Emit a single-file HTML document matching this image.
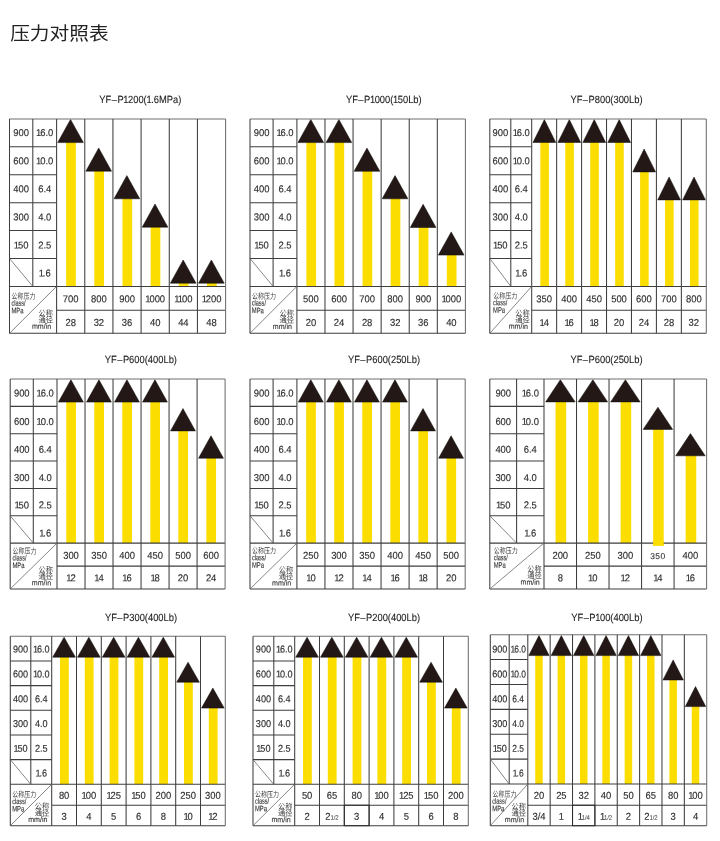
<!DOCTYPE html>
<html lang="zh-CN">
<head>
<meta charset="utf-8">
<title>压力对照表</title>
<style>
html,body{margin:0;padding:0;background:#fff;}
body{width:720px;height:841px;overflow:hidden;position:relative;font-family:"Liberation Sans","Noto Sans CJK SC",sans-serif;}
h1{position:absolute;left:10.2px;top:19.5px;margin:0;font-family:"Liberation Sans","Noto Sans CJK SC",sans-serif;font-weight:400;font-size:19.7px;line-height:28px;color:#222;letter-spacing:0px;white-space:nowrap;transform:scale(1,0.90);transform-origin:0 50%;}
svg{position:absolute;left:0;top:0;}
.l{stroke:#3e3e3e;stroke-width:1.05;fill:none;}
.lt{stroke:#6e6e6e;}
.d{stroke-width:0.8;stroke:#686868;}
.dk{fill:none;stroke:#2b2b2b;stroke-width:1;}
.t{fill:#231815;stroke:#0d0a09;stroke-width:0.5;}
.b{fill:#fcdd00;}
text{text-rendering:geometricPrecision;font-family:"Liberation Sans","Noto Sans CJK SC",sans-serif;fill:#2e2e2e;}
.n{font-size:9.9px;text-anchor:middle;stroke:#2e2e2e;stroke-width:0.15px;}
.s35{font-size:8.4px;letter-spacing:0.45px;stroke-width:0.1px;}
.fr{font-size:6.4px;letter-spacing:-0.15px;stroke-width:0;}
.h{font-size:10.4px;text-anchor:middle;fill:#222;stroke:#222;stroke-width:0.1px;}
.c1{font-size:7.8px;font-weight:400;fill:#3c3c3c;}
.c2{font-size:7.8px;font-weight:400;text-anchor:end;fill:#3c3c3c;}
.e1{font-size:7.9px;fill:#333;stroke:#333;stroke-width:0.12px;}
.e2{font-size:7.7px;text-anchor:end;fill:#333;stroke:#333;stroke-width:0.12px;}
</style>
</head>
<body>
<h1>压力对照表</h1>
<svg width="720" height="841" viewBox="0 0 720 841">
<g id="chart1">
<rect class="b" x="66.13" y="142.1" width="9.7" height="144.3"/>
<path class="t" d="M70.53 119.4L83.38 142.6L57.68 142.6Z"/>
<rect class="b" x="94.3" y="170.7" width="9.7" height="115.7"/>
<path class="t" d="M98.7 148L111.55 171.2L85.85 171.2Z"/>
<rect class="b" x="122.47" y="198.3" width="9.7" height="88.1"/>
<path class="t" d="M126.87 175.6L139.72 198.8L114.02 198.8Z"/>
<rect class="b" x="150.63" y="226.7" width="9.7" height="59.7"/>
<path class="t" d="M155.03 204L167.88 227.2L142.18 227.2Z"/>
<rect class="b" x="178.8" y="282.7" width="9.7" height="3.7"/>
<path class="t" d="M183.2 260L196.05 283.2L170.35 283.2Z"/>
<rect class="b" x="206.97" y="282.7" width="9.7" height="3.7"/>
<path class="t" d="M211.37 260L224.22 283.2L198.52 283.2Z"/>
<line class="l lt" x1="9.5" y1="118.9" x2="225.6" y2="118.9"/>
<line class="l" x1="9.5" y1="146.82" x2="56.6" y2="146.82"/>
<line class="l" x1="9.5" y1="174.73" x2="56.6" y2="174.73"/>
<line class="l" x1="9.5" y1="202.65" x2="56.6" y2="202.65"/>
<line class="l" x1="9.5" y1="230.57" x2="56.6" y2="230.57"/>
<line class="l" x1="9.5" y1="258.48" x2="56.6" y2="258.48"/>
<line class="l" x1="9.5" y1="286.4" x2="225.6" y2="286.4"/>
<line class="l" x1="56.6" y1="310.2" x2="225.6" y2="310.2"/>
<line class="l" x1="9.5" y1="333.3" x2="225.6" y2="333.3"/>
<line class="l" x1="9.5" y1="118.9" x2="9.5" y2="333.3"/>
<line class="l" x1="32.8" y1="118.9" x2="32.8" y2="286.4"/>
<line class="l" x1="56.6" y1="118.9" x2="56.6" y2="333.3"/>
<line class="l" x1="84.77" y1="118.9" x2="84.77" y2="333.3"/>
<line class="l" x1="112.93" y1="118.9" x2="112.93" y2="333.3"/>
<line class="l" x1="141.1" y1="118.9" x2="141.1" y2="333.3"/>
<line class="l" x1="169.27" y1="118.9" x2="169.27" y2="333.3"/>
<line class="l" x1="197.43" y1="118.9" x2="197.43" y2="333.3"/>
<line class="l lt" x1="225.6" y1="118.9" x2="225.6" y2="333.3"/>
<line class="l d" x1="9.5" y1="258.48" x2="32.8" y2="286.4"/>
<line class="l d" x1="9.5" y1="333.3" x2="56.6" y2="286.4"/>
<text class="h" transform="translate(140.3 102.9) scale(0.9 1)">YF<tspan dx="0.5">–</tspan><tspan dx="0.5">P<tspan dx="-0.4">1</tspan><tspan dx="-0.5">2</tspan>00(<tspan dx="-0.4">1</tspan><tspan dx="-0.5">.</tspan>6MPa)</tspan></text>
<text class="n" transform="translate(21.15 136.1) rotate(0.3) scale(0.95 1)">900</text>
<text class="n" transform="translate(44.7 136.1) rotate(0.3) scale(0.95 1)">1<tspan dx="-1.15">6</tspan>.0</text>
<text class="n" transform="translate(21.15 164.2) rotate(0.3) scale(0.95 1)">600</text>
<text class="n" transform="translate(44.7 164.2) rotate(0.3) scale(0.95 1)">1<tspan dx="-1.15">0</tspan>.0</text>
<text class="n" transform="translate(21.15 192.3) rotate(0.3) scale(0.95 1)">400</text>
<text class="n" transform="translate(44.7 192.3) rotate(0.3) scale(0.95 1)">6.4</text>
<text class="n" transform="translate(21.15 220.4) rotate(0.3) scale(0.95 1)">300</text>
<text class="n" transform="translate(44.7 220.4) rotate(0.3) scale(0.95 1)">4.0</text>
<text class="n" transform="translate(21.15 248.5) rotate(0.3) scale(0.95 1)">1<tspan dx="-1.15">5</tspan>0</text>
<text class="n" transform="translate(44.7 248.5) rotate(0.3) scale(0.95 1)">2.5</text>
<text class="n" transform="translate(44.7 276.6) rotate(0.3) scale(0.95 1)">1<tspan dx="-1.15">.</tspan>6</text>
<text class="n" transform="translate(70.68 302.2) rotate(0.3) scale(0.95 1)">700</text>
<text class="n" transform="translate(70.68 325.9) rotate(0.3) scale(0.95 1)">28</text>
<text class="n" transform="translate(98.85 302.2) rotate(0.3) scale(0.95 1)">800</text>
<text class="n" transform="translate(98.85 325.9) rotate(0.3) scale(0.95 1)">32</text>
<text class="n" transform="translate(127.02 302.2) rotate(0.3) scale(0.95 1)">900</text>
<text class="n" transform="translate(127.02 325.9) rotate(0.3) scale(0.95 1)">36</text>
<text class="n" transform="translate(155.18 302.2) rotate(0.3) scale(0.95 1)">1<tspan dx="-1.15">0</tspan>00</text>
<text class="n" transform="translate(155.18 325.9) rotate(0.3) scale(0.95 1)">40</text>
<text class="n" transform="translate(183.35 302.2) rotate(0.3) scale(0.95 1)">1<tspan dx="-1.13">1</tspan><tspan dx="-1.15">0</tspan>0</text>
<text class="n" transform="translate(183.35 325.9) rotate(0.3) scale(0.95 1)">44</text>
<text class="n" transform="translate(211.52 302.2) rotate(0.3) scale(0.95 1)">1<tspan dx="-1.15">2</tspan>00</text>
<text class="n" transform="translate(211.52 325.9) rotate(0.3) scale(0.95 1)">48</text>
<text class="c1" transform="translate(11.6 299) rotate(0.3) scale(0.77 1)">公称压力</text>
<text class="e1" transform="translate(11.5 305.7) rotate(0.3) scale(0.7 1)">class/</text>
<text class="e1" transform="translate(11.5 313.2) rotate(0.3) scale(0.74 1)">MPa</text>
<text class="c2" transform="translate(53.1 316) rotate(0.3) scale(0.93 1)">公称</text>
<text class="c2" transform="translate(53.1 322.6) rotate(0.3) scale(0.93 1)">通径</text>
<text class="e2" transform="translate(51.2 328.9) rotate(0.3) scale(0.92 1)">mm/in</text>
</g>
<g id="chart2">
<rect class="b" x="306.39" y="142.1" width="9.7" height="144.3"/>
<path class="t" d="M310.79 119.4L323.64 142.6L297.94 142.6Z"/>
<rect class="b" x="334.47" y="142.1" width="9.7" height="144.3"/>
<path class="t" d="M338.88 119.4L351.73 142.6L326.02 142.6Z"/>
<rect class="b" x="362.56" y="170.8" width="9.7" height="115.6"/>
<path class="t" d="M366.96 148.1L379.81 171.3L354.11 171.3Z"/>
<rect class="b" x="390.64" y="198.3" width="9.7" height="88.1"/>
<path class="t" d="M395.04 175.6L407.89 198.8L382.19 198.8Z"/>
<rect class="b" x="418.72" y="227" width="9.7" height="59.4"/>
<path class="t" d="M423.12 204.3L435.98 227.5L410.27 227.5Z"/>
<rect class="b" x="446.81" y="254.6" width="9.7" height="31.8"/>
<path class="t" d="M451.21 231.9L464.06 255.1L438.36 255.1Z"/>
<line class="l lt" x1="250" y1="118.9" x2="465.4" y2="118.9"/>
<line class="l" x1="250" y1="146.82" x2="296.9" y2="146.82"/>
<line class="l" x1="250" y1="174.73" x2="296.9" y2="174.73"/>
<line class="l" x1="250" y1="202.65" x2="296.9" y2="202.65"/>
<line class="l" x1="250" y1="230.57" x2="296.9" y2="230.57"/>
<line class="l" x1="250" y1="258.48" x2="296.9" y2="258.48"/>
<line class="l" x1="250" y1="286.4" x2="465.4" y2="286.4"/>
<line class="l" x1="296.9" y1="310.2" x2="465.4" y2="310.2"/>
<line class="l" x1="250" y1="333.3" x2="465.4" y2="333.3"/>
<line class="l" x1="250" y1="118.9" x2="250" y2="333.3"/>
<line class="l" x1="273.1" y1="118.9" x2="273.1" y2="286.4"/>
<line class="l" x1="296.9" y1="118.9" x2="296.9" y2="333.3"/>
<line class="l" x1="324.98" y1="118.9" x2="324.98" y2="333.3"/>
<line class="l" x1="353.07" y1="118.9" x2="353.07" y2="333.3"/>
<line class="l" x1="381.15" y1="118.9" x2="381.15" y2="333.3"/>
<line class="l" x1="409.23" y1="118.9" x2="409.23" y2="333.3"/>
<line class="l" x1="437.32" y1="118.9" x2="437.32" y2="333.3"/>
<line class="l lt" x1="465.4" y1="118.9" x2="465.4" y2="333.3"/>
<line class="l d" x1="250" y1="258.48" x2="273.1" y2="286.4"/>
<line class="l d" x1="250" y1="333.3" x2="296.9" y2="286.4"/>
<text class="h" transform="translate(383.8 102.9) scale(0.9 1)">YF<tspan dx="0.5">–</tspan><tspan dx="0.5">P<tspan dx="-0.4">1</tspan><tspan dx="-0.5">0</tspan>00(<tspan dx="-0.4">1</tspan><tspan dx="-0.5">5</tspan>0Lb)</tspan></text>
<text class="n" transform="translate(261.55 136.1) rotate(0.3) scale(0.95 1)">900</text>
<text class="n" transform="translate(285 136.1) rotate(0.3) scale(0.95 1)">1<tspan dx="-1.15">6</tspan>.0</text>
<text class="n" transform="translate(261.55 164.2) rotate(0.3) scale(0.95 1)">600</text>
<text class="n" transform="translate(285 164.2) rotate(0.3) scale(0.95 1)">1<tspan dx="-1.15">0</tspan>.0</text>
<text class="n" transform="translate(261.55 192.3) rotate(0.3) scale(0.95 1)">400</text>
<text class="n" transform="translate(285 192.3) rotate(0.3) scale(0.95 1)">6.4</text>
<text class="n" transform="translate(261.55 220.4) rotate(0.3) scale(0.95 1)">300</text>
<text class="n" transform="translate(285 220.4) rotate(0.3) scale(0.95 1)">4.0</text>
<text class="n" transform="translate(261.55 248.5) rotate(0.3) scale(0.95 1)">1<tspan dx="-1.15">5</tspan>0</text>
<text class="n" transform="translate(285 248.5) rotate(0.3) scale(0.95 1)">2.5</text>
<text class="n" transform="translate(285 276.6) rotate(0.3) scale(0.95 1)">1<tspan dx="-1.15">.</tspan>6</text>
<text class="n" transform="translate(310.94 302.2) rotate(0.3) scale(0.95 1)">500</text>
<text class="n" transform="translate(310.94 325.9) rotate(0.3) scale(0.95 1)">20</text>
<text class="n" transform="translate(339.02 302.2) rotate(0.3) scale(0.95 1)">600</text>
<text class="n" transform="translate(339.02 325.9) rotate(0.3) scale(0.95 1)">24</text>
<text class="n" transform="translate(367.11 302.2) rotate(0.3) scale(0.95 1)">700</text>
<text class="n" transform="translate(367.11 325.9) rotate(0.3) scale(0.95 1)">28</text>
<text class="n" transform="translate(395.19 302.2) rotate(0.3) scale(0.95 1)">800</text>
<text class="n" transform="translate(395.19 325.9) rotate(0.3) scale(0.95 1)">32</text>
<text class="n" transform="translate(423.27 302.2) rotate(0.3) scale(0.95 1)">900</text>
<text class="n" transform="translate(423.27 325.9) rotate(0.3) scale(0.95 1)">36</text>
<text class="n" transform="translate(451.36 302.2) rotate(0.3) scale(0.95 1)">1<tspan dx="-1.15">0</tspan>00</text>
<text class="n" transform="translate(451.36 325.9) rotate(0.3) scale(0.95 1)">40</text>
<text class="c1" transform="translate(251.9 298.9) rotate(0.3) scale(0.77 1)">公称压力</text>
<text class="e1" transform="translate(251.8 305.6) rotate(0.3) scale(0.7 1)">class/</text>
<text class="e1" transform="translate(251.8 313.1) rotate(0.3) scale(0.74 1)">MPa</text>
<text class="c2" transform="translate(293.9 316.1) rotate(0.3) scale(0.93 1)">公称</text>
<text class="c2" transform="translate(293.9 322.7) rotate(0.3) scale(0.93 1)">通径</text>
<text class="e2" transform="translate(292 329) rotate(0.3) scale(0.92 1)">mm/in</text>
</g>
<g id="chart3">
<rect class="b" x="540.32" y="142" width="8.6" height="144.4"/>
<path class="t" d="M544.37 119.6L555.77 142.5L532.97 142.5Z"/>
<rect class="b" x="565.26" y="142" width="8.6" height="144.4"/>
<path class="t" d="M569.31 119.6L580.71 142.5L557.91 142.5Z"/>
<rect class="b" x="590.21" y="142" width="8.6" height="144.4"/>
<path class="t" d="M594.26 119.6L605.66 142.5L582.86 142.5Z"/>
<rect class="b" x="615.15" y="142" width="8.6" height="144.4"/>
<path class="t" d="M619.2 119.6L630.6 142.5L607.8 142.5Z"/>
<rect class="b" x="640.09" y="171.4" width="8.6" height="115"/>
<path class="t" d="M644.14 149L655.54 171.9L632.74 171.9Z"/>
<rect class="b" x="665.04" y="199.4" width="8.6" height="87"/>
<path class="t" d="M669.09 177L680.49 199.9L657.69 199.9Z"/>
<rect class="b" x="689.98" y="199.4" width="8.6" height="87"/>
<path class="t" d="M694.03 177L705.43 199.9L682.63 199.9Z"/>
<line class="l lt" x1="489.8" y1="118.9" x2="706.3" y2="118.9"/>
<line class="l" x1="489.8" y1="146.82" x2="531.7" y2="146.82"/>
<line class="l" x1="489.8" y1="174.73" x2="531.7" y2="174.73"/>
<line class="l" x1="489.8" y1="202.65" x2="531.7" y2="202.65"/>
<line class="l" x1="489.8" y1="230.57" x2="531.7" y2="230.57"/>
<line class="l" x1="489.8" y1="258.48" x2="531.7" y2="258.48"/>
<line class="l" x1="489.8" y1="286.4" x2="706.3" y2="286.4"/>
<line class="l" x1="531.7" y1="310.2" x2="706.3" y2="310.2"/>
<line class="l" x1="489.8" y1="333.3" x2="706.3" y2="333.3"/>
<line class="l" x1="489.8" y1="118.9" x2="489.8" y2="333.3"/>
<line class="l" x1="510.8" y1="118.9" x2="510.8" y2="286.4"/>
<line class="l" x1="531.7" y1="118.9" x2="531.7" y2="333.3"/>
<line class="l" x1="556.64" y1="118.9" x2="556.64" y2="333.3"/>
<line class="l" x1="581.59" y1="118.9" x2="581.59" y2="333.3"/>
<line class="l" x1="606.53" y1="118.9" x2="606.53" y2="333.3"/>
<line class="l" x1="631.47" y1="118.9" x2="631.47" y2="333.3"/>
<line class="l" x1="656.41" y1="118.9" x2="656.41" y2="333.3"/>
<line class="l" x1="681.36" y1="118.9" x2="681.36" y2="333.3"/>
<line class="l lt" x1="706.3" y1="118.9" x2="706.3" y2="333.3"/>
<line class="l d" x1="489.8" y1="258.48" x2="510.8" y2="286.4"/>
<line class="l d" x1="489.8" y1="333.3" x2="531.7" y2="286.4"/>
<text class="h" transform="translate(606.5 102.9) scale(0.9 1)">YF<tspan dx="0.5">–</tspan><tspan dx="0.5">P800(300Lb)</tspan></text>
<text class="n" transform="translate(500.3 136.1) rotate(0.3) scale(0.95 1)">900</text>
<text class="n" transform="translate(521.25 136.1) rotate(0.3) scale(0.95 1)">1<tspan dx="-1.15">6</tspan>.0</text>
<text class="n" transform="translate(500.3 164.2) rotate(0.3) scale(0.95 1)">600</text>
<text class="n" transform="translate(521.25 164.2) rotate(0.3) scale(0.95 1)">1<tspan dx="-1.15">0</tspan>.0</text>
<text class="n" transform="translate(500.3 192.3) rotate(0.3) scale(0.95 1)">400</text>
<text class="n" transform="translate(521.25 192.3) rotate(0.3) scale(0.95 1)">6.4</text>
<text class="n" transform="translate(500.3 220.4) rotate(0.3) scale(0.95 1)">300</text>
<text class="n" transform="translate(521.25 220.4) rotate(0.3) scale(0.95 1)">4.0</text>
<text class="n" transform="translate(500.3 248.5) rotate(0.3) scale(0.95 1)">1<tspan dx="-1.15">5</tspan>0</text>
<text class="n" transform="translate(521.25 248.5) rotate(0.3) scale(0.95 1)">2.5</text>
<text class="n" transform="translate(521.25 276.6) rotate(0.3) scale(0.95 1)">1<tspan dx="-1.15">.</tspan>6</text>
<text class="n" transform="translate(544.17 302.2) rotate(0.3) scale(0.95 1)">350</text>
<text class="n" transform="translate(544.17 325.9) rotate(0.3) scale(0.95 1)">1<tspan dx="-1.15">4</tspan></text>
<text class="n" transform="translate(569.11 302.2) rotate(0.3) scale(0.95 1)">400</text>
<text class="n" transform="translate(569.11 325.9) rotate(0.3) scale(0.95 1)">1<tspan dx="-1.15">6</tspan></text>
<text class="n" transform="translate(594.06 302.2) rotate(0.3) scale(0.95 1)">450</text>
<text class="n" transform="translate(594.06 325.9) rotate(0.3) scale(0.95 1)">1<tspan dx="-1.15">8</tspan></text>
<text class="n" transform="translate(619 302.2) rotate(0.3) scale(0.95 1)">500</text>
<text class="n" transform="translate(619 325.9) rotate(0.3) scale(0.95 1)">20</text>
<text class="n" transform="translate(643.94 302.2) rotate(0.3) scale(0.95 1)">600</text>
<text class="n" transform="translate(643.94 325.9) rotate(0.3) scale(0.95 1)">24</text>
<text class="n" transform="translate(668.89 302.2) rotate(0.3) scale(0.95 1)">700</text>
<text class="n" transform="translate(668.89 325.9) rotate(0.3) scale(0.95 1)">28</text>
<text class="n" transform="translate(693.83 302.2) rotate(0.3) scale(0.95 1)">800</text>
<text class="n" transform="translate(693.83 325.9) rotate(0.3) scale(0.95 1)">32</text>
<text class="c1" transform="translate(493.2 298.6) rotate(0.3) scale(0.77 1)">公称压力</text>
<text class="e1" transform="translate(493.1 305.3) rotate(0.3) scale(0.7 1)">class/</text>
<text class="e1" transform="translate(493.1 312.8) rotate(0.3) scale(0.74 1)">MPa</text>
<text class="c2" transform="translate(529.8 316) rotate(0.3) scale(0.93 1)">公称</text>
<text class="c2" transform="translate(529.8 322.6) rotate(0.3) scale(0.93 1)">通径</text>
<text class="e2" transform="translate(527.9 328.9) rotate(0.3) scale(0.92 1)">mm/in</text>
</g>
<g id="chart4">
<rect class="b" x="66.26" y="401.6" width="9.7" height="141.5"/>
<path class="t" d="M70.91 379.7L83.36 402.1L58.46 402.1Z"/>
<rect class="b" x="94.28" y="401.6" width="9.7" height="141.5"/>
<path class="t" d="M98.93 379.7L111.38 402.1L86.48 402.1Z"/>
<rect class="b" x="122.29" y="401.6" width="9.7" height="141.5"/>
<path class="t" d="M126.94 379.7L139.39 402.1L114.49 402.1Z"/>
<rect class="b" x="150.31" y="401.6" width="9.7" height="141.5"/>
<path class="t" d="M154.96 379.7L167.41 402.1L142.51 402.1Z"/>
<rect class="b" x="178.32" y="430.4" width="9.7" height="112.7"/>
<path class="t" d="M182.97 408.5L195.42 430.9L170.53 430.9Z"/>
<rect class="b" x="206.34" y="457.7" width="9.7" height="85.4"/>
<path class="t" d="M210.99 435.8L223.44 458.2L198.54 458.2Z"/>
<line class="l lt" x1="10.2" y1="379" x2="225.1" y2="379"/>
<line class="l" x1="10.2" y1="406.35" x2="57" y2="406.35"/>
<line class="l" x1="10.2" y1="433.7" x2="57" y2="433.7"/>
<line class="l" x1="10.2" y1="461.05" x2="57" y2="461.05"/>
<line class="l" x1="10.2" y1="488.4" x2="57" y2="488.4"/>
<line class="l" x1="10.2" y1="515.75" x2="57" y2="515.75"/>
<line class="l" x1="10.2" y1="543.1" x2="225.1" y2="543.1"/>
<line class="l" x1="57" y1="566.1" x2="225.1" y2="566.1"/>
<line class="l" x1="10.2" y1="589" x2="225.1" y2="589"/>
<line class="l" x1="10.2" y1="379" x2="10.2" y2="589"/>
<line class="l" x1="33.3" y1="379" x2="33.3" y2="543.1"/>
<line class="l" x1="57" y1="379" x2="57" y2="589"/>
<line class="l" x1="85.02" y1="379" x2="85.02" y2="589"/>
<line class="l" x1="113.03" y1="379" x2="113.03" y2="589"/>
<line class="l" x1="141.05" y1="379" x2="141.05" y2="589"/>
<line class="l" x1="169.07" y1="379" x2="169.07" y2="589"/>
<line class="l" x1="197.08" y1="379" x2="197.08" y2="589"/>
<line class="l lt" x1="225.1" y1="379" x2="225.1" y2="589"/>
<line class="l d" x1="10.2" y1="515.75" x2="33.3" y2="543.1"/>
<line class="l d" x1="10.2" y1="589" x2="57" y2="543.1"/>
<text class="h" transform="translate(140.9 363.1) scale(0.9 1)">YF<tspan dx="0.5">–</tspan><tspan dx="0.5">P600(400Lb)</tspan></text>
<text class="n" transform="translate(21.75 396.5) rotate(0.3) scale(0.95 1)">900</text>
<text class="n" transform="translate(45.15 396.5) rotate(0.3) scale(0.95 1)">1<tspan dx="-1.15">6</tspan>.0</text>
<text class="n" transform="translate(21.75 424.9) rotate(0.3) scale(0.95 1)">600</text>
<text class="n" transform="translate(45.15 424.9) rotate(0.3) scale(0.95 1)">1<tspan dx="-1.15">0</tspan>.0</text>
<text class="n" transform="translate(21.75 452.7) rotate(0.3) scale(0.95 1)">400</text>
<text class="n" transform="translate(45.15 452.7) rotate(0.3) scale(0.95 1)">6.4</text>
<text class="n" transform="translate(21.75 481.1) rotate(0.3) scale(0.95 1)">300</text>
<text class="n" transform="translate(45.15 481.1) rotate(0.3) scale(0.95 1)">4.0</text>
<text class="n" transform="translate(21.75 508.4) rotate(0.3) scale(0.95 1)">1<tspan dx="-1.15">5</tspan>0</text>
<text class="n" transform="translate(45.15 508.4) rotate(0.3) scale(0.95 1)">2.5</text>
<text class="n" transform="translate(45.15 536.5) rotate(0.3) scale(0.95 1)">1<tspan dx="-1.15">.</tspan>6</text>
<text class="n" transform="translate(71.01 558.7) rotate(0.3) scale(0.95 1)">300</text>
<text class="n" transform="translate(71.01 581.2) rotate(0.3) scale(0.95 1)">1<tspan dx="-1.15">2</tspan></text>
<text class="n" transform="translate(99.03 558.7) rotate(0.3) scale(0.95 1)">350</text>
<text class="n" transform="translate(99.03 581.2) rotate(0.3) scale(0.95 1)">1<tspan dx="-1.15">4</tspan></text>
<text class="n" transform="translate(127.04 558.7) rotate(0.3) scale(0.95 1)">400</text>
<text class="n" transform="translate(127.04 581.2) rotate(0.3) scale(0.95 1)">1<tspan dx="-1.15">6</tspan></text>
<text class="n" transform="translate(155.06 558.7) rotate(0.3) scale(0.95 1)">450</text>
<text class="n" transform="translate(155.06 581.2) rotate(0.3) scale(0.95 1)">1<tspan dx="-1.15">8</tspan></text>
<text class="n" transform="translate(183.07 558.7) rotate(0.3) scale(0.95 1)">500</text>
<text class="n" transform="translate(183.07 581.2) rotate(0.3) scale(0.95 1)">20</text>
<text class="n" transform="translate(211.09 558.7) rotate(0.3) scale(0.95 1)">600</text>
<text class="n" transform="translate(211.09 581.2) rotate(0.3) scale(0.95 1)">24</text>
<text class="c1" transform="translate(12.5 553.8) rotate(0.3) scale(0.77 1)">公称压力</text>
<text class="e1" transform="translate(12.4 560.5) rotate(0.3) scale(0.7 1)">class/</text>
<text class="e1" transform="translate(12.4 568) rotate(0.3) scale(0.74 1)">MPa</text>
<text class="c2" transform="translate(53 572.5) rotate(0.3) scale(0.93 1)">公称</text>
<text class="c2" transform="translate(53 579.1) rotate(0.3) scale(0.93 1)">通径</text>
<text class="e2" transform="translate(51.1 585.4) rotate(0.3) scale(0.92 1)">mm/in</text>
</g>
<g id="chart5">
<rect class="b" x="306.17" y="401.6" width="9.7" height="141.5"/>
<path class="t" d="M310.82 379.7L323.27 402.1L298.37 402.1Z"/>
<rect class="b" x="334.23" y="401.6" width="9.7" height="141.5"/>
<path class="t" d="M338.88 379.7L351.32 402.1L326.43 402.1Z"/>
<rect class="b" x="362.27" y="401.6" width="9.7" height="141.5"/>
<path class="t" d="M366.92 379.7L379.37 402.1L354.47 402.1Z"/>
<rect class="b" x="390.32" y="401.6" width="9.7" height="141.5"/>
<path class="t" d="M394.97 379.7L407.42 402.1L382.52 402.1Z"/>
<rect class="b" x="418.38" y="430.4" width="9.7" height="112.7"/>
<path class="t" d="M423.02 408.5L435.47 430.9L410.57 430.9Z"/>
<rect class="b" x="446.42" y="457.7" width="9.7" height="85.4"/>
<path class="t" d="M451.07 435.8L463.52 458.2L438.62 458.2Z"/>
<line class="l lt" x1="250" y1="379" x2="465.2" y2="379"/>
<line class="l" x1="250" y1="406.35" x2="296.9" y2="406.35"/>
<line class="l" x1="250" y1="433.7" x2="296.9" y2="433.7"/>
<line class="l" x1="250" y1="461.05" x2="296.9" y2="461.05"/>
<line class="l" x1="250" y1="488.4" x2="296.9" y2="488.4"/>
<line class="l" x1="250" y1="515.75" x2="296.9" y2="515.75"/>
<line class="l" x1="250" y1="543.1" x2="465.2" y2="543.1"/>
<line class="l" x1="296.9" y1="566.1" x2="465.2" y2="566.1"/>
<line class="l" x1="250" y1="589" x2="465.2" y2="589"/>
<line class="l" x1="250" y1="379" x2="250" y2="589"/>
<line class="l" x1="273.1" y1="379" x2="273.1" y2="543.1"/>
<line class="l" x1="296.9" y1="379" x2="296.9" y2="589"/>
<line class="l" x1="324.95" y1="379" x2="324.95" y2="589"/>
<line class="l" x1="353" y1="379" x2="353" y2="589"/>
<line class="l" x1="381.05" y1="379" x2="381.05" y2="589"/>
<line class="l" x1="409.1" y1="379" x2="409.1" y2="589"/>
<line class="l" x1="437.15" y1="379" x2="437.15" y2="589"/>
<line class="l lt" x1="465.2" y1="379" x2="465.2" y2="589"/>
<line class="l d" x1="250" y1="515.75" x2="273.1" y2="543.1"/>
<line class="l d" x1="250" y1="589" x2="296.9" y2="543.1"/>
<text class="h" transform="translate(384 363.1) scale(0.9 1)">YF<tspan dx="0.5">–</tspan><tspan dx="0.5">P600(250Lb)</tspan></text>
<text class="n" transform="translate(261.55 396.5) rotate(0.3) scale(0.95 1)">900</text>
<text class="n" transform="translate(285 396.5) rotate(0.3) scale(0.95 1)">1<tspan dx="-1.15">6</tspan>.0</text>
<text class="n" transform="translate(261.55 424.9) rotate(0.3) scale(0.95 1)">600</text>
<text class="n" transform="translate(285 424.9) rotate(0.3) scale(0.95 1)">1<tspan dx="-1.15">0</tspan>.0</text>
<text class="n" transform="translate(261.55 452.7) rotate(0.3) scale(0.95 1)">400</text>
<text class="n" transform="translate(285 452.7) rotate(0.3) scale(0.95 1)">6.4</text>
<text class="n" transform="translate(261.55 481.1) rotate(0.3) scale(0.95 1)">300</text>
<text class="n" transform="translate(285 481.1) rotate(0.3) scale(0.95 1)">4.0</text>
<text class="n" transform="translate(261.55 508.4) rotate(0.3) scale(0.95 1)">1<tspan dx="-1.15">5</tspan>0</text>
<text class="n" transform="translate(285 508.4) rotate(0.3) scale(0.95 1)">2.5</text>
<text class="n" transform="translate(285 536.5) rotate(0.3) scale(0.95 1)">1<tspan dx="-1.15">.</tspan>6</text>
<text class="n" transform="translate(310.92 558.7) rotate(0.3) scale(0.95 1)">250</text>
<text class="n" transform="translate(310.92 581.2) rotate(0.3) scale(0.95 1)">1<tspan dx="-1.15">0</tspan></text>
<text class="n" transform="translate(338.98 558.7) rotate(0.3) scale(0.95 1)">300</text>
<text class="n" transform="translate(338.98 581.2) rotate(0.3) scale(0.95 1)">1<tspan dx="-1.15">2</tspan></text>
<text class="n" transform="translate(367.02 558.7) rotate(0.3) scale(0.95 1)">350</text>
<text class="n" transform="translate(367.02 581.2) rotate(0.3) scale(0.95 1)">1<tspan dx="-1.15">4</tspan></text>
<text class="n" transform="translate(395.07 558.7) rotate(0.3) scale(0.95 1)">400</text>
<text class="n" transform="translate(395.07 581.2) rotate(0.3) scale(0.95 1)">1<tspan dx="-1.15">6</tspan></text>
<text class="n" transform="translate(423.12 558.7) rotate(0.3) scale(0.95 1)">450</text>
<text class="n" transform="translate(423.12 581.2) rotate(0.3) scale(0.95 1)">1<tspan dx="-1.15">8</tspan></text>
<text class="n" transform="translate(451.17 558.7) rotate(0.3) scale(0.95 1)">500</text>
<text class="n" transform="translate(451.17 581.2) rotate(0.3) scale(0.95 1)">20</text>
<text class="c1" transform="translate(252.1 553.5) rotate(0.3) scale(0.77 1)">公称压力</text>
<text class="e1" transform="translate(252 560.2) rotate(0.3) scale(0.7 1)">class/</text>
<text class="e1" transform="translate(252 567.7) rotate(0.3) scale(0.74 1)">MPa</text>
<text class="c2" transform="translate(293.2 572.6) rotate(0.3) scale(0.93 1)">公称</text>
<text class="c2" transform="translate(293.2 579.2) rotate(0.3) scale(0.93 1)">通径</text>
<text class="e2" transform="translate(291.3 585.5) rotate(0.3) scale(0.92 1)">mm/in</text>
</g>
<g id="chart6">
<rect class="b" x="555.56" y="401.4" width="10.6" height="141.7"/>
<path class="t" d="M560.36 379.7L575.11 401.9L545.61 401.9Z"/>
<rect class="b" x="588.08" y="401.4" width="10.6" height="141.7"/>
<path class="t" d="M592.88 379.7L607.63 401.9L578.13 401.9Z"/>
<rect class="b" x="620.6" y="401.4" width="10.6" height="141.7"/>
<path class="t" d="M625.4 379.7L640.15 401.9L610.65 401.9Z"/>
<rect class="b" x="653.12" y="428.9" width="10.6" height="116.8"/>
<path class="t" d="M657.92 407.2L672.67 429.4L643.17 429.4Z"/>
<rect class="b" x="685.64" y="455.3" width="10.6" height="87.8"/>
<path class="t" d="M690.44 433.6L705.19 455.8L675.69 455.8Z"/>
<line class="l lt" x1="489.8" y1="379" x2="706.6" y2="379"/>
<line class="l" x1="489.8" y1="406.35" x2="544" y2="406.35"/>
<line class="l" x1="489.8" y1="433.7" x2="544" y2="433.7"/>
<line class="l" x1="489.8" y1="461.05" x2="544" y2="461.05"/>
<line class="l" x1="489.8" y1="488.4" x2="544" y2="488.4"/>
<line class="l" x1="489.8" y1="515.75" x2="544" y2="515.75"/>
<line class="l" x1="489.8" y1="543.1" x2="706.6" y2="543.1"/>
<line class="l" x1="544" y1="566.1" x2="706.6" y2="566.1"/>
<line class="l" x1="489.8" y1="589" x2="706.6" y2="589"/>
<line class="l" x1="489.8" y1="379" x2="489.8" y2="589"/>
<line class="l" x1="516.6" y1="379" x2="516.6" y2="543.1"/>
<line class="l" x1="544" y1="379" x2="544" y2="589"/>
<line class="l" x1="576.52" y1="379" x2="576.52" y2="589"/>
<line class="l" x1="609.04" y1="379" x2="609.04" y2="589"/>
<line class="l" x1="641.56" y1="379" x2="641.56" y2="589"/>
<line class="l" x1="674.08" y1="379" x2="674.08" y2="589"/>
<line class="l lt" x1="706.6" y1="379" x2="706.6" y2="589"/>
<rect class="b" x="653.12" y="541.1" width="10.6" height="4.6"/>
<line class="l d" x1="489.8" y1="515.75" x2="516.6" y2="543.1"/>
<line class="l d" x1="489.8" y1="589" x2="544" y2="543.1"/>
<text class="h" transform="translate(606.5 363.1) scale(0.9 1)">YF<tspan dx="0.5">–</tspan><tspan dx="0.5">P600(250Lb)</tspan></text>
<text class="n" transform="translate(503.2 396.5) rotate(0.3) scale(0.95 1)">900</text>
<text class="n" transform="translate(530.3 396.5) rotate(0.3) scale(0.95 1)">1<tspan dx="-1.15">6</tspan>.0</text>
<text class="n" transform="translate(503.2 424.9) rotate(0.3) scale(0.95 1)">600</text>
<text class="n" transform="translate(530.3 424.9) rotate(0.3) scale(0.95 1)">1<tspan dx="-1.15">0</tspan>.0</text>
<text class="n" transform="translate(503.2 452.7) rotate(0.3) scale(0.95 1)">400</text>
<text class="n" transform="translate(530.3 452.7) rotate(0.3) scale(0.95 1)">6.4</text>
<text class="n" transform="translate(503.2 481.1) rotate(0.3) scale(0.95 1)">300</text>
<text class="n" transform="translate(530.3 481.1) rotate(0.3) scale(0.95 1)">4.0</text>
<text class="n" transform="translate(503.2 508.4) rotate(0.3) scale(0.95 1)">1<tspan dx="-1.15">5</tspan>0</text>
<text class="n" transform="translate(530.3 508.4) rotate(0.3) scale(0.95 1)">2.5</text>
<text class="n" transform="translate(530.3 536.5) rotate(0.3) scale(0.95 1)">1<tspan dx="-1.15">.</tspan>6</text>
<text class="n" transform="translate(560.26 558.7) rotate(0.3) scale(0.95 1)">200</text>
<text class="n" transform="translate(560.26 581.2) rotate(0.3) scale(0.95 1)">8</text>
<text class="n" transform="translate(592.78 558.7) rotate(0.3) scale(0.95 1)">250</text>
<text class="n" transform="translate(592.78 581.2) rotate(0.3) scale(0.95 1)">1<tspan dx="-1.15">0</tspan></text>
<text class="n" transform="translate(625.3 558.7) rotate(0.3) scale(0.95 1)">300</text>
<text class="n" transform="translate(625.3 581.2) rotate(0.3) scale(0.95 1)">1<tspan dx="-1.15">2</tspan></text>
<text class="n s35" transform="translate(657.82 559) rotate(0.3) scale(1 1)">350</text>
<text class="n" transform="translate(657.82 581.2) rotate(0.3) scale(0.95 1)">1<tspan dx="-1.15">4</tspan></text>
<text class="n" transform="translate(690.34 558.7) rotate(0.3) scale(0.95 1)">400</text>
<text class="n" transform="translate(690.34 581.2) rotate(0.3) scale(0.95 1)">1<tspan dx="-1.15">6</tspan></text>
<text class="c1" transform="translate(493.8 553.5) rotate(0.3) scale(0.77 1)">公称压力</text>
<text class="e1" transform="translate(493.7 560.2) rotate(0.3) scale(0.7 1)">class/</text>
<text class="e1" transform="translate(493.7 567.7) rotate(0.3) scale(0.74 1)">MPa</text>
<text class="c2" transform="translate(541.7 571.8) rotate(0.3) scale(0.93 1)">公称</text>
<text class="c2" transform="translate(541.7 578.4) rotate(0.3) scale(0.93 1)">通径</text>
<text class="e2" transform="translate(539.8 584.7) rotate(0.3) scale(0.92 1)">mm/in</text>
</g>
<g id="chart7">
<rect class="b" x="60" y="656.7" width="8.8" height="127.6"/>
<path class="t" d="M64.05 637.2L75.4 657.2L52.7 657.2Z"/>
<rect class="b" x="84.8" y="656.7" width="8.8" height="127.6"/>
<path class="t" d="M88.85 637.2L100.2 657.2L77.5 657.2Z"/>
<rect class="b" x="109.6" y="656.7" width="8.8" height="127.6"/>
<path class="t" d="M113.65 637.2L125 657.2L102.3 657.2Z"/>
<rect class="b" x="134.4" y="656.7" width="8.8" height="127.6"/>
<path class="t" d="M138.45 637.2L149.8 657.2L127.1 657.2Z"/>
<rect class="b" x="159.2" y="656.7" width="8.8" height="127.6"/>
<path class="t" d="M163.25 637.2L174.6 657.2L151.9 657.2Z"/>
<rect class="b" x="184" y="681.7" width="8.8" height="102.6"/>
<path class="t" d="M188.05 662.2L199.4 682.2L176.7 682.2Z"/>
<rect class="b" x="208.8" y="707.6" width="8.8" height="76.7"/>
<path class="t" d="M212.85 688.1L224.2 708.1L201.5 708.1Z"/>
<line class="l lt" x1="10.3" y1="636.3" x2="225.3" y2="636.3"/>
<line class="l" x1="10.3" y1="660.97" x2="51.7" y2="660.97"/>
<line class="l" x1="10.3" y1="685.63" x2="51.7" y2="685.63"/>
<line class="l" x1="10.3" y1="710.3" x2="51.7" y2="710.3"/>
<line class="l" x1="10.3" y1="734.97" x2="51.7" y2="734.97"/>
<line class="l" x1="10.3" y1="759.63" x2="51.7" y2="759.63"/>
<line class="l" x1="10.3" y1="784.3" x2="225.3" y2="784.3"/>
<line class="l" x1="51.7" y1="805.2" x2="225.3" y2="805.2"/>
<line class="l" x1="10.3" y1="825.7" x2="225.3" y2="825.7"/>
<line class="l" x1="10.3" y1="636.3" x2="10.3" y2="825.7"/>
<line class="l" x1="30.8" y1="636.3" x2="30.8" y2="784.3"/>
<line class="l" x1="51.7" y1="636.3" x2="51.7" y2="825.7"/>
<line class="l" x1="76.5" y1="636.3" x2="76.5" y2="825.7"/>
<line class="l" x1="101.3" y1="636.3" x2="101.3" y2="825.7"/>
<line class="l" x1="126.1" y1="636.3" x2="126.1" y2="825.7"/>
<line class="l" x1="150.9" y1="636.3" x2="150.9" y2="825.7"/>
<line class="l" x1="175.7" y1="636.3" x2="175.7" y2="825.7"/>
<line class="l" x1="200.5" y1="636.3" x2="200.5" y2="825.7"/>
<line class="l lt" x1="225.3" y1="636.3" x2="225.3" y2="825.7"/>
<line class="l d" x1="10.3" y1="759.63" x2="30.8" y2="784.3"/>
<line class="l d" x1="10.3" y1="825.7" x2="51.7" y2="784.3"/>
<text class="h" transform="translate(141 621.4) scale(0.9 1)">YF<tspan dx="0.5">–</tspan><tspan dx="0.5">P300(400Lb)</tspan></text>
<text class="n" transform="translate(20.55 652.5) rotate(0.3) scale(0.92 1)">900</text>
<text class="n" transform="translate(41.25 652.5) rotate(0.3) scale(0.92 1)">1<tspan dx="-1.15">6</tspan>.0</text>
<text class="n" transform="translate(20.55 677.4) rotate(0.3) scale(0.92 1)">600</text>
<text class="n" transform="translate(41.25 677.4) rotate(0.3) scale(0.92 1)">1<tspan dx="-1.15">0</tspan>.0</text>
<text class="n" transform="translate(20.55 702.2) rotate(0.3) scale(0.92 1)">400</text>
<text class="n" transform="translate(41.25 702.2) rotate(0.3) scale(0.92 1)">6.4</text>
<text class="n" transform="translate(20.55 727) rotate(0.3) scale(0.92 1)">300</text>
<text class="n" transform="translate(41.25 727) rotate(0.3) scale(0.92 1)">4.0</text>
<text class="n" transform="translate(20.55 751.8) rotate(0.3) scale(0.92 1)">1<tspan dx="-1.15">5</tspan>0</text>
<text class="n" transform="translate(41.25 751.8) rotate(0.3) scale(0.92 1)">2.5</text>
<text class="n" transform="translate(41.25 776.5) rotate(0.3) scale(0.92 1)">1<tspan dx="-1.15">.</tspan>6</text>
<text class="n" transform="translate(64.1 798.7) rotate(0.3) scale(0.95 1)">80</text>
<text class="n" transform="translate(64.1 819.8) rotate(0.3) scale(0.95 1)">3</text>
<text class="n" transform="translate(88.9 798.7) rotate(0.3) scale(0.95 1)">1<tspan dx="-1.15">0</tspan>0</text>
<text class="n" transform="translate(88.9 819.8) rotate(0.3) scale(0.95 1)">4</text>
<text class="n" transform="translate(113.7 798.7) rotate(0.3) scale(0.95 1)">1<tspan dx="-1.15">2</tspan>5</text>
<text class="n" transform="translate(113.7 819.8) rotate(0.3) scale(0.95 1)">5</text>
<text class="n" transform="translate(138.5 798.7) rotate(0.3) scale(0.95 1)">1<tspan dx="-1.15">5</tspan>0</text>
<text class="n" transform="translate(138.5 819.8) rotate(0.3) scale(0.95 1)">6</text>
<text class="n" transform="translate(163.3 798.7) rotate(0.3) scale(0.95 1)">200</text>
<text class="n" transform="translate(163.3 819.8) rotate(0.3) scale(0.95 1)">8</text>
<text class="n" transform="translate(188.1 798.7) rotate(0.3) scale(0.95 1)">250</text>
<text class="n" transform="translate(188.1 819.8) rotate(0.3) scale(0.95 1)">1<tspan dx="-1.15">0</tspan></text>
<text class="n" transform="translate(212.9 798.7) rotate(0.3) scale(0.95 1)">300</text>
<text class="n" transform="translate(212.9 819.8) rotate(0.3) scale(0.95 1)">1<tspan dx="-1.15">2</tspan></text>
<text class="c1" transform="translate(12.3 797.2) rotate(0.3) scale(0.77 1)">公称压力</text>
<text class="e1" transform="translate(12.2 803.9) rotate(0.3) scale(0.7 1)">class/</text>
<text class="e1" transform="translate(12.2 811.4) rotate(0.3) scale(0.74 1)">MPa</text>
<text class="c2" transform="translate(49.3 809.1) rotate(0.3) scale(0.93 1)">公称</text>
<text class="c2" transform="translate(49.3 815.7) rotate(0.3) scale(0.93 1)">通径</text>
<text class="e2" transform="translate(47.4 822) rotate(0.3) scale(0.92 1)">mm/in</text>
</g>
<g id="chart8">
<rect class="b" x="303" y="656.7" width="8.8" height="127.6"/>
<path class="t" d="M307.05 637.2L318.4 657.2L295.7 657.2Z"/>
<rect class="b" x="327.8" y="656.7" width="8.8" height="127.6"/>
<path class="t" d="M331.85 637.2L343.2 657.2L320.5 657.2Z"/>
<rect class="b" x="352.6" y="656.7" width="8.8" height="127.6"/>
<path class="t" d="M356.65 637.2L368 657.2L345.3 657.2Z"/>
<rect class="b" x="377.4" y="656.7" width="8.8" height="127.6"/>
<path class="t" d="M381.45 637.2L392.8 657.2L370.1 657.2Z"/>
<rect class="b" x="402.2" y="656.7" width="8.8" height="127.6"/>
<path class="t" d="M406.25 637.2L417.6 657.2L394.9 657.2Z"/>
<rect class="b" x="427" y="681.7" width="8.8" height="102.6"/>
<path class="t" d="M431.05 662.2L442.4 682.2L419.7 682.2Z"/>
<rect class="b" x="451.8" y="707.6" width="8.8" height="76.7"/>
<path class="t" d="M455.85 688.1L467.2 708.1L444.5 708.1Z"/>
<line class="l lt" x1="253" y1="636.3" x2="468.3" y2="636.3"/>
<line class="l" x1="253" y1="660.97" x2="294.7" y2="660.97"/>
<line class="l" x1="253" y1="685.63" x2="294.7" y2="685.63"/>
<line class="l" x1="253" y1="710.3" x2="294.7" y2="710.3"/>
<line class="l" x1="253" y1="734.97" x2="294.7" y2="734.97"/>
<line class="l" x1="253" y1="759.63" x2="294.7" y2="759.63"/>
<line class="l" x1="253" y1="784.3" x2="468.3" y2="784.3"/>
<line class="l" x1="294.7" y1="805.2" x2="468.3" y2="805.2"/>
<line class="l" x1="253" y1="825.7" x2="468.3" y2="825.7"/>
<line class="l" x1="253" y1="636.3" x2="253" y2="825.7"/>
<line class="l" x1="273.8" y1="636.3" x2="273.8" y2="784.3"/>
<line class="l" x1="294.7" y1="636.3" x2="294.7" y2="825.7"/>
<line class="l" x1="319.5" y1="636.3" x2="319.5" y2="825.7"/>
<line class="l" x1="344.3" y1="636.3" x2="344.3" y2="825.7"/>
<line class="l" x1="369.1" y1="636.3" x2="369.1" y2="825.7"/>
<line class="l" x1="393.9" y1="636.3" x2="393.9" y2="825.7"/>
<line class="l" x1="418.7" y1="636.3" x2="418.7" y2="825.7"/>
<line class="l" x1="443.5" y1="636.3" x2="443.5" y2="825.7"/>
<line class="l lt" x1="468.3" y1="636.3" x2="468.3" y2="825.7"/>
<rect class="dk" x="344.3" y="805.2" width="24.8" height="20.5"/>
<line class="l d" x1="253" y1="759.63" x2="273.8" y2="784.3"/>
<line class="l d" x1="253" y1="825.7" x2="294.7" y2="784.3"/>
<text class="h" transform="translate(384 621.4) scale(0.9 1)">YF<tspan dx="0.5">–</tspan><tspan dx="0.5">P200(400Lb)</tspan></text>
<text class="n" transform="translate(263.4 652.5) rotate(0.3) scale(0.92 1)">900</text>
<text class="n" transform="translate(284.25 652.5) rotate(0.3) scale(0.92 1)">1<tspan dx="-1.15">6</tspan>.0</text>
<text class="n" transform="translate(263.4 677.4) rotate(0.3) scale(0.92 1)">600</text>
<text class="n" transform="translate(284.25 677.4) rotate(0.3) scale(0.92 1)">1<tspan dx="-1.15">0</tspan>.0</text>
<text class="n" transform="translate(263.4 702.2) rotate(0.3) scale(0.92 1)">400</text>
<text class="n" transform="translate(284.25 702.2) rotate(0.3) scale(0.92 1)">6.4</text>
<text class="n" transform="translate(263.4 727) rotate(0.3) scale(0.92 1)">300</text>
<text class="n" transform="translate(284.25 727) rotate(0.3) scale(0.92 1)">4.0</text>
<text class="n" transform="translate(263.4 751.8) rotate(0.3) scale(0.92 1)">1<tspan dx="-1.15">5</tspan>0</text>
<text class="n" transform="translate(284.25 751.8) rotate(0.3) scale(0.92 1)">2.5</text>
<text class="n" transform="translate(284.25 776.5) rotate(0.3) scale(0.92 1)">1<tspan dx="-1.15">.</tspan>6</text>
<text class="n" transform="translate(307.1 798.7) rotate(0.3) scale(0.95 1)">50</text>
<text class="n" transform="translate(307.1 819.8) rotate(0.3) scale(0.95 1)">2</text>
<text class="n" transform="translate(331.9 798.7) rotate(0.3) scale(0.95 1)">65</text>
<text class="n" transform="translate(331.9 819.8) rotate(0.3) scale(0.95 1)">2<tspan class="fr">1/2</tspan></text>
<text class="n" transform="translate(356.7 798.7) rotate(0.3) scale(0.95 1)">80</text>
<text class="n" transform="translate(356.7 819.8) rotate(0.3) scale(0.95 1)">3</text>
<text class="n" transform="translate(381.5 798.7) rotate(0.3) scale(0.95 1)">1<tspan dx="-1.15">0</tspan>0</text>
<text class="n" transform="translate(381.5 819.8) rotate(0.3) scale(0.95 1)">4</text>
<text class="n" transform="translate(406.3 798.7) rotate(0.3) scale(0.95 1)">1<tspan dx="-1.15">2</tspan>5</text>
<text class="n" transform="translate(406.3 819.8) rotate(0.3) scale(0.95 1)">5</text>
<text class="n" transform="translate(431.1 798.7) rotate(0.3) scale(0.95 1)">1<tspan dx="-1.15">5</tspan>0</text>
<text class="n" transform="translate(431.1 819.8) rotate(0.3) scale(0.95 1)">6</text>
<text class="n" transform="translate(455.9 798.7) rotate(0.3) scale(0.95 1)">200</text>
<text class="n" transform="translate(455.9 819.8) rotate(0.3) scale(0.95 1)">8</text>
<text class="c1" transform="translate(255 797.1) rotate(0.3) scale(0.77 1)">公称压力</text>
<text class="e1" transform="translate(254.9 803.8) rotate(0.3) scale(0.7 1)">class/</text>
<text class="e1" transform="translate(254.9 811.3) rotate(0.3) scale(0.74 1)">MPa</text>
<text class="c2" transform="translate(292.6 809.3) rotate(0.3) scale(0.93 1)">公称</text>
<text class="c2" transform="translate(292.6 815.9) rotate(0.3) scale(0.93 1)">通径</text>
<text class="e2" transform="translate(290.7 822.2) rotate(0.3) scale(0.92 1)">mm/in</text>
</g>
<g id="chart9">
<rect class="b" x="535.23" y="655.1" width="7.5" height="128.9"/>
<path class="t" d="M538.98 635.5L549.18 655.6L528.78 655.6Z"/>
<rect class="b" x="557.59" y="655.1" width="7.5" height="128.9"/>
<path class="t" d="M561.34 635.5L571.54 655.6L551.14 655.6Z"/>
<rect class="b" x="579.96" y="655.1" width="7.5" height="128.9"/>
<path class="t" d="M583.71 635.5L593.91 655.6L573.51 655.6Z"/>
<rect class="b" x="602.32" y="655.1" width="7.5" height="128.9"/>
<path class="t" d="M606.07 635.5L616.27 655.6L595.87 655.6Z"/>
<rect class="b" x="624.68" y="655.1" width="7.5" height="128.9"/>
<path class="t" d="M628.43 635.5L638.63 655.6L618.23 655.6Z"/>
<rect class="b" x="647.04" y="655.1" width="7.5" height="128.9"/>
<path class="t" d="M650.79 635.5L660.99 655.6L640.59 655.6Z"/>
<rect class="b" x="669.41" y="679.5" width="7.5" height="104.5"/>
<path class="t" d="M673.16 659.9L683.36 680L662.96 680Z"/>
<rect class="b" x="691.77" y="706.1" width="7.5" height="77.9"/>
<path class="t" d="M695.52 686.5L705.72 706.6L685.32 706.6Z"/>
<line class="l lt" x1="490.3" y1="634.7" x2="706.7" y2="634.7"/>
<line class="l" x1="490.3" y1="659.58" x2="527.8" y2="659.58"/>
<line class="l" x1="490.3" y1="684.47" x2="527.8" y2="684.47"/>
<line class="l" x1="490.3" y1="709.35" x2="527.8" y2="709.35"/>
<line class="l" x1="490.3" y1="734.23" x2="527.8" y2="734.23"/>
<line class="l" x1="490.3" y1="759.12" x2="527.8" y2="759.12"/>
<line class="l" x1="490.3" y1="784" x2="706.7" y2="784"/>
<line class="l" x1="527.8" y1="805.2" x2="706.7" y2="805.2"/>
<line class="l" x1="490.3" y1="825.7" x2="706.7" y2="825.7"/>
<line class="l" x1="490.3" y1="634.7" x2="490.3" y2="825.7"/>
<line class="l" x1="509.2" y1="634.7" x2="509.2" y2="784"/>
<line class="l" x1="527.8" y1="634.7" x2="527.8" y2="825.7"/>
<line class="l" x1="550.16" y1="634.7" x2="550.16" y2="825.7"/>
<line class="l" x1="572.52" y1="634.7" x2="572.52" y2="825.7"/>
<line class="l" x1="594.89" y1="634.7" x2="594.89" y2="825.7"/>
<line class="l" x1="617.25" y1="634.7" x2="617.25" y2="825.7"/>
<line class="l" x1="639.61" y1="634.7" x2="639.61" y2="825.7"/>
<line class="l" x1="661.98" y1="634.7" x2="661.98" y2="825.7"/>
<line class="l" x1="684.34" y1="634.7" x2="684.34" y2="825.7"/>
<line class="l lt" x1="706.7" y1="634.7" x2="706.7" y2="825.7"/>
<rect class="dk" x="572.52" y="805.2" width="22.36" height="20.5"/>
<line class="l d" x1="490.3" y1="759.12" x2="509.2" y2="784"/>
<line class="l d" x1="490.3" y1="825.7" x2="527.8" y2="784"/>
<text class="h" transform="translate(606.9 621.4) scale(0.9 1)">YF<tspan dx="0.5">–</tspan><tspan dx="0.5">P<tspan dx="-0.4">1</tspan><tspan dx="-0.5">0</tspan>0(400Lb)</tspan></text>
<text class="n" transform="translate(499.75 652.5) rotate(0.3) scale(0.92 1)">900</text>
<text class="n" transform="translate(518.2 652.5) rotate(0.3) scale(0.85 1)">1<tspan dx="-1.15">6</tspan>.0</text>
<text class="n" transform="translate(499.75 677.4) rotate(0.3) scale(0.92 1)">600</text>
<text class="n" transform="translate(518.2 677.4) rotate(0.3) scale(0.85 1)">1<tspan dx="-1.15">0</tspan>.0</text>
<text class="n" transform="translate(499.75 702.2) rotate(0.3) scale(0.92 1)">400</text>
<text class="n" transform="translate(518.2 702.2) rotate(0.3) scale(0.85 1)">6.4</text>
<text class="n" transform="translate(499.75 727) rotate(0.3) scale(0.92 1)">300</text>
<text class="n" transform="translate(518.2 727) rotate(0.3) scale(0.85 1)">4.0</text>
<text class="n" transform="translate(499.75 751.8) rotate(0.3) scale(0.92 1)">1<tspan dx="-1.15">5</tspan>0</text>
<text class="n" transform="translate(518.2 751.8) rotate(0.3) scale(0.85 1)">2.5</text>
<text class="n" transform="translate(518.2 776.5) rotate(0.3) scale(0.85 1)">1<tspan dx="-1.15">.</tspan>6</text>
<text class="n" transform="translate(538.98 798.7) rotate(0.3) scale(0.95 1)">20</text>
<text class="n" transform="translate(538.98 819.8) rotate(0.3) scale(0.95 1)">3/4</text>
<text class="n" transform="translate(561.34 798.7) rotate(0.3) scale(0.95 1)">25</text>
<text class="n" transform="translate(561.34 819.8) rotate(0.3) scale(0.95 1)">1</text>
<text class="n" transform="translate(583.71 798.7) rotate(0.3) scale(0.95 1)">32</text>
<text class="n" transform="translate(583.71 819.8) rotate(0.3) scale(0.95 1)">1<tspan class="fr" dx="-1.3">1/4</tspan></text>
<text class="n" transform="translate(606.07 798.7) rotate(0.3) scale(0.95 1)">40</text>
<text class="n" transform="translate(606.07 819.8) rotate(0.3) scale(0.95 1)">1<tspan class="fr" dx="-1.3">1/2</tspan></text>
<text class="n" transform="translate(628.43 798.7) rotate(0.3) scale(0.95 1)">50</text>
<text class="n" transform="translate(628.43 819.8) rotate(0.3) scale(0.95 1)">2</text>
<text class="n" transform="translate(650.79 798.7) rotate(0.3) scale(0.95 1)">65</text>
<text class="n" transform="translate(650.79 819.8) rotate(0.3) scale(0.95 1)">2<tspan class="fr">1/2</tspan></text>
<text class="n" transform="translate(673.16 798.7) rotate(0.3) scale(0.95 1)">80</text>
<text class="n" transform="translate(673.16 819.8) rotate(0.3) scale(0.95 1)">3</text>
<text class="n" transform="translate(695.52 798.7) rotate(0.3) scale(0.95 1)">1<tspan dx="-1.15">0</tspan>0</text>
<text class="n" transform="translate(695.52 819.8) rotate(0.3) scale(0.95 1)">4</text>
<text class="c1" transform="translate(492.4 797) rotate(0.3) scale(0.77 1)">公称压力</text>
<text class="e1" transform="translate(492.3 803.7) rotate(0.3) scale(0.7 1)">class/</text>
<text class="e1" transform="translate(492.3 811.2) rotate(0.3) scale(0.74 1)">MPa</text>
<text class="c2" transform="translate(526 809.3) rotate(0.3) scale(0.93 1)">公称</text>
<text class="c2" transform="translate(526 815.9) rotate(0.3) scale(0.93 1)">通径</text>
<text class="e2" transform="translate(524.1 822.2) rotate(0.3) scale(0.92 1)">mm/in</text>
</g>
</svg>
</body>
</html>
